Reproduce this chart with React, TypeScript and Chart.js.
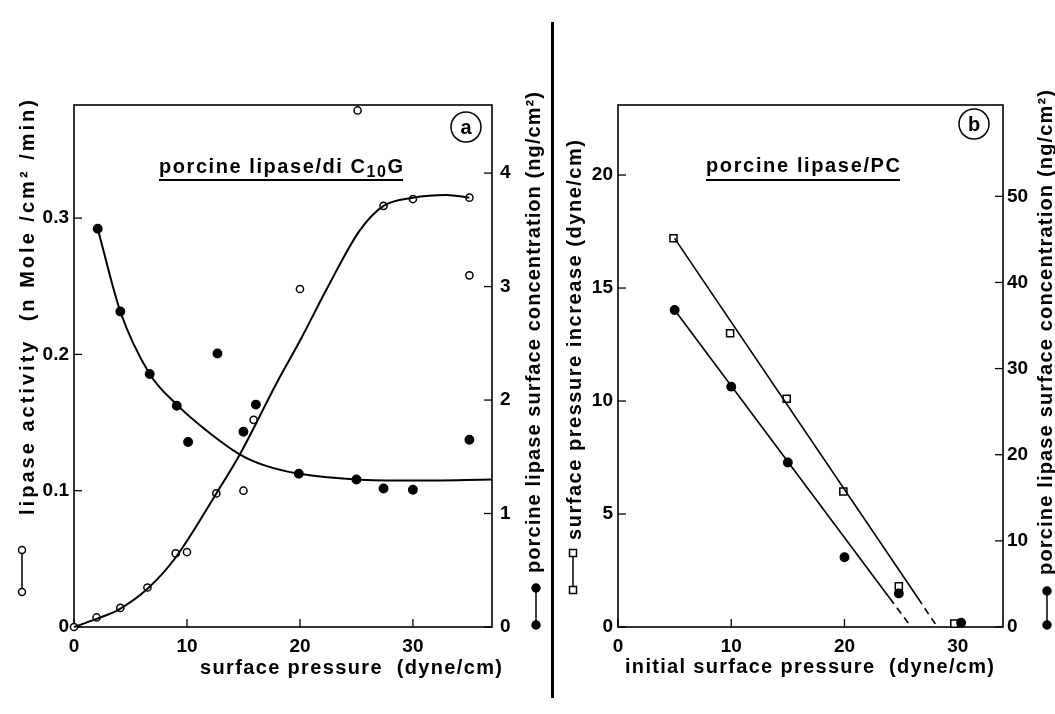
import React, { useEffect, useRef } from "react";
import { Chart, registerables } from "chart.js";

Chart.register(...registerables);

const FONT = "'Liberation Sans', Arial, Helvetica, sans-serif";
const TITLE_SIZE = 20;

// ---------- Panel (a): porcine lipase / di C10G ----------
const A_X_TICKS = [0, 10, 20, 30];
const A_YL_TICKS = [0, 0.1, 0.2, 0.3];
const A_YL_LABELS = ["0", "0.1", "0.2", "0.3"];
const A_YR_TICKS = [0, 1, 2, 3, 4];
const A_YR_LABELS = ["0", "1", "2", "3", "4"];

// lipase activity (open circles, left axis)
const A_OPEN_X = [0, 2, 4.1, 6.5, 9, 10, 12.6, 15, 15.9, 20, 25.1, 27.4, 30, 35, 35];
const A_OPEN_Y = [0, 0.007, 0.014, 0.029, 0.054, 0.055, 0.098, 0.1, 0.152, 0.248, 0.379, 0.309, 0.314, 0.315, 0.258];
const A_OPEN_CURVE_X = [0, 2, 4, 6.5, 9, 12.6, 14.7, 18, 20, 22.5, 25.3, 27.4, 30, 33, 35];
const A_OPEN_CURVE_Y = [0, 0.006, 0.013, 0.028, 0.051, 0.098, 0.127, 0.18, 0.21, 0.25, 0.291, 0.309, 0.315, 0.317, 0.315];

// porcine lipase surface concentration (filled circles, right axis)
const A_FILLED_X = [2.1, 4.1, 6.7, 9.1, 10.1, 12.7, 15, 16.1, 19.9, 25, 27.4, 30, 35];
const A_FILLED_Y = [3.51, 2.78, 2.23, 1.95, 1.63, 2.41, 1.72, 1.96, 1.35, 1.3, 1.22, 1.21, 1.65];
const A_FILLED_CURVE_X = [2.1, 4.1, 6.7, 9.1, 11.5, 14.7, 17, 20, 25, 30, 37];
const A_FILLED_CURVE_Y = [3.51, 2.78, 2.23, 1.96, 1.75, 1.52, 1.42, 1.35, 1.3, 1.29, 1.3];

// ---------- Panel (b): porcine lipase / PC ----------
const B_X_TICKS = [0, 10, 20, 30];
const B_YL_TICKS = [0, 5, 10, 15, 20];
const B_YR_TICKS = [0, 10, 20, 30, 40, 50];

// surface pressure increase (open squares, left axis)
const B_SQ_X = [4.9, 9.9, 14.9, 19.9, 24.8, 29.7];
const B_SQ_Y = [17.2, 13.0, 10.1, 6.0, 1.8, 0.15];
const B_SQ_FIT_X = [5, 26.5, 28.2];
const B_SQ_FIT_Y = [17.2, 1.27, 0];

// porcine lipase surface concentration (filled circles, right axis)
const B_DOT_X = [5, 10, 15, 20, 24.8, 30.3];
const B_DOT_Y = [36.8, 27.9, 19.1, 8.1, 3.9, 0.5];
const B_DOT_FIT_X = [5, 24, 25.9];
const B_DOT_FIT_Y = [36.8, 3.34, 0];

const zip = (xs: number[], ys: number[]) => xs.map((x, i) => ({ x, y: ys[i] }));

type Seg = { text: string; size: number; dy?: number };

function drawSpaced(ctx: CanvasRenderingContext2D, segs: Seg[], x0: number, y: number, width: number) {
  const chars: { ch: string; size: number; dy: number }[] = [];
  for (const s of segs) for (const ch of Array.from(s.text)) chars.push({ ch, size: s.size, dy: s.dy || 0 });
  const widths = chars.map((c) => {
    ctx.font = `bold ${c.size}px ${FONT}`;
    return ctx.measureText(c.ch).width;
  });
  const natural = widths.reduce((a, b) => a + b, 0);
  const extra = chars.length > 1 ? (width - natural) / (chars.length - 1) : 0;
  let x = x0;
  ctx.textAlign = "left";
  chars.forEach((c, i) => {
    ctx.font = `bold ${c.size}px ${FONT}`;
    ctx.fillText(c.ch, x, y + c.dy);
    x += widths[i] + extra;
  });
}

type VTitle = { text: string; cx: number; yb: number; yt: number };
type HTitle = { text: string; x0: number; x1: number; cy: number };
type Glyph = { kind: "open" | "filled" | "square"; x: number; y1: number; y2: number };
type Sub = { segs: Seg[]; x0: number; x1: number; base: number; ul: number };
type Badge = { text: string; cx: number; cy: number; r: number };

type Decor = {
  offsetX: number;
  vtitles: VTitle[];
  htitle: HTitle;
  glyphs: Glyph[];
  sub: Sub;
  badge: Badge;
};

function drawMarker(ctx: CanvasRenderingContext2D, kind: string, x: number, y: number) {
  ctx.lineWidth = 1.5;
  ctx.strokeStyle = "#000";
  if (kind === "square") {
    ctx.fillStyle = "#fff";
    ctx.fillRect(x - 3.5, y - 3.5, 7, 7);
    ctx.strokeRect(x - 3.5, y - 3.5, 7, 7);
  } else {
    ctx.beginPath();
    ctx.arc(x, y, kind === "filled" ? 4 : 3.5, 0, Math.PI * 2);
    ctx.fillStyle = kind === "filled" ? "#000" : "#fff";
    ctx.fill();
    ctx.stroke();
  }
}

const decorPlugin = {
  id: "decor",
  beforeDatasetsDraw(chart: any) {
    const ctx: CanvasRenderingContext2D = chart.ctx;
    const { left, right, top, bottom } = chart.chartArea;
    ctx.save();
    ctx.strokeStyle = "#000";
    ctx.lineWidth = 1.6;
    ctx.strokeRect(left, top, right - left, bottom - top);
    ctx.lineWidth = 1.3;
    Object.values(chart.scales).forEach((s: any) => {
      s.ticks.forEach((t: any) => {
        const p = s.getPixelForValue(t.value);
        ctx.beginPath();
        if (s.axis === "x") {
          ctx.moveTo(p, bottom);
          ctx.lineTo(p, bottom - 8);
        } else if (s.position === "left") {
          ctx.moveTo(left, p);
          ctx.lineTo(left + 8, p);
        } else {
          ctx.moveTo(right, p);
          ctx.lineTo(right - 8, p);
        }
        ctx.stroke();
      });
    });
    ctx.restore();
  },
  afterDraw(chart: any, _args: any, opts: any) {
    const d: Decor = opts.decor;
    if (!d) return;
    const ctx: CanvasRenderingContext2D = chart.ctx;
    const ox = d.offsetX;
    ctx.save();
    ctx.fillStyle = "#000";
    ctx.textBaseline = "middle";
    d.vtitles.forEach((t) => {
      ctx.save();
      ctx.translate(t.cx - ox, t.yb);
      ctx.rotate(-Math.PI / 2);
      drawSpaced(ctx, [{ text: t.text, size: TITLE_SIZE }], 0, 0, t.yb - t.yt);
      ctx.restore();
    });
    const h = d.htitle;
    drawSpaced(ctx, [{ text: h.text, size: TITLE_SIZE }], h.x0 - ox, h.cy, h.x1 - h.x0);
    d.glyphs.forEach((g) => {
      ctx.strokeStyle = "#000";
      ctx.lineWidth = 1.5;
      ctx.beginPath();
      ctx.moveTo(g.x - ox, g.y1);
      ctx.lineTo(g.x - ox, g.y2);
      ctx.stroke();
      drawMarker(ctx, g.kind, g.x - ox, g.y1);
      drawMarker(ctx, g.kind, g.x - ox, g.y2);
    });
    ctx.fillStyle = "#000";
    ctx.textBaseline = "alphabetic";
    const sb = d.sub;
    drawSpaced(ctx, sb.segs, sb.x0 - ox, sb.base, sb.x1 - sb.x0);
    ctx.lineWidth = 2;
    ctx.beginPath();
    ctx.moveTo(sb.x0 - ox, sb.ul);
    ctx.lineTo(sb.x1 - ox, sb.ul);
    ctx.stroke();
    const bd = d.badge;
    ctx.lineWidth = 1.5;
    ctx.beginPath();
    ctx.arc(bd.cx - ox, bd.cy, bd.r, 0, Math.PI * 2);
    ctx.stroke();
    ctx.textAlign = "center";
    ctx.textBaseline = "middle";
    ctx.font = `bold 20px ${FONT}`;
    ctx.fillText(bd.text, bd.cx - ox, bd.cy + 1);
    ctx.restore();
  },
};

const tickFont = { family: FONT, size: 19, weight: "bold" as const };

function axis(opts: {
  position: string;
  min: number;
  max: number;
  ticks: number[];
  labels?: string[];
  size: number;
  padding: number;
}) {
  const isX = opts.position === "bottom";
  return {
    type: "linear",
    position: opts.position,
    min: opts.min,
    max: opts.max,
    afterFit: (s: any) => {
      if (isX) s.height = opts.size;
      else s.width = opts.size;
    },
    afterBuildTicks: (s: any) => {
      s.ticks = opts.ticks.map((v) => ({ value: v }));
    },
    grid: { display: false, drawTicks: false },
    border: { display: false },
    ticks: {
      font: tickFont,
      color: "#000",
      padding: opts.padding,
      maxRotation: 0,
      autoSkip: false,
      callback: (v: any, i: number) => (opts.labels ? opts.labels[i] : String(v)),
    },
  };
}

function lineDS(xs: number[], ys: number[], yAxisID: string, extra: any = {}) {
  return {
    data: zip(xs, ys),
    yAxisID,
    showLine: true,
    pointRadius: 0,
    borderColor: "#000",
    borderWidth: 2,
    fill: false,
    clip: 10,
    ...extra,
  };
}

function pointDS(xs: number[], ys: number[], yAxisID: string, style: string, filled: boolean) {
  return {
    data: zip(xs, ys),
    yAxisID,
    showLine: false,
    pointStyle: style,
    pointRadius: style === "rect" ? 5 : filled ? 4.2 : 3.6,
    pointBackgroundColor: filled ? "#000" : "#fff",
    pointBorderColor: "#000",
    pointBorderWidth: 1.5,
    clip: 10,
  };
}

const decorA: Decor = {
  offsetX: 0,
  vtitles: [
    { text: "lipase activity  (n Mole /cm² /min)", cx: 28, yb: 515, yt: 100 },
    { text: "porcine lipase surface concentration (ng/cm²)", cx: 534, yb: 573, yt: 92 },
  ],
  htitle: { text: "surface pressure  (dyne/cm)", x0: 200, x1: 502, cy: 668 },
  glyphs: [
    { kind: "open", x: 22, y1: 550, y2: 592 },
    { kind: "filled", x: 536, y1: 588, y2: 625 },
  ],
  sub: {
    segs: [
      { text: "porcine lipase/di C", size: 20 },
      { text: "10", size: 16, dy: 4 },
      { text: "G", size: 20 },
    ],
    x0: 159,
    x1: 403,
    base: 173,
    ul: 180,
  },
  badge: { text: "a", cx: 466, cy: 127, r: 15 },
};

const decorB: Decor = {
  offsetX: 556,
  vtitles: [
    { text: "surface pressure increase (dyne/cm)", cx: 575, yb: 540, yt: 140 },
    { text: "porcine lipase surface concentration (ng/cm²)", cx: 1046, yb: 575, yt: 90 },
  ],
  htitle: { text: "initial surface pressure  (dyne/cm)", x0: 625, x1: 994, cy: 667 },
  glyphs: [
    { kind: "square", x: 573, y1: 553, y2: 590 },
    { kind: "filled", x: 1047, y1: 591, y2: 625 },
  ],
  sub: {
    segs: [{ text: "porcine lipase/PC", size: 20 }],
    x0: 706,
    x1: 900,
    base: 172,
    ul: 180,
  },
  badge: { text: "b", cx: 974, cy: 124, r: 15 },
};

function baseOptions(decor: Decor, scales: any) {
  return {
    animation: false,
    responsive: false,
    maintainAspectRatio: false,
    layout: { padding: { top: 105, left: 0, right: 0, bottom: 0 } },
    plugins: { legend: { display: false }, tooltip: { enabled: false }, decor: { decor } },
    scales,
  };
}

export default function App() {
  const refA = useRef<HTMLCanvasElement>(null);
  const refB = useRef<HTMLCanvasElement>(null);

  useEffect(() => {
    const chartA = new Chart(refA.current as HTMLCanvasElement, {
      type: "scatter",
      data: {
        datasets: [
          lineDS(A_OPEN_CURVE_X, A_OPEN_CURVE_Y, "yL", { cubicInterpolationMode: "monotone" }),
          lineDS(A_FILLED_CURVE_X, A_FILLED_CURVE_Y, "yR", { cubicInterpolationMode: "monotone" }),
          pointDS(A_OPEN_X, A_OPEN_Y, "yL", "circle", false),
          pointDS(A_FILLED_X, A_FILLED_Y, "yR", "circle", true),
        ] as any,
      },
      options: baseOptions(decorA, {
        x: axis({ position: "bottom", min: 0, max: 37, ticks: A_X_TICKS, size: 87, padding: 8 }),
        yL: axis({ position: "left", min: 0, max: 0.383, ticks: A_YL_TICKS, labels: A_YL_LABELS, size: 74, padding: 5 }),
        yR: axis({ position: "right", min: 0, max: 4.6, ticks: A_YR_TICKS, labels: A_YR_LABELS, size: 56, padding: 8 }),
      }) as any,
      plugins: [decorPlugin as any],
    });

    const dashLast = { segment: { borderDash: (c: any) => (c.p0DataIndex === 1 ? [7, 5] : undefined) } };
    const chartB = new Chart(refB.current as HTMLCanvasElement, {
      type: "scatter",
      data: {
        datasets: [
          lineDS(B_SQ_FIT_X, B_SQ_FIT_Y, "yL", { borderWidth: 1.6, ...dashLast }),
          lineDS(B_DOT_FIT_X, B_DOT_FIT_Y, "yR", { borderWidth: 1.6, ...dashLast }),
          pointDS(B_DOT_X, B_DOT_Y, "yR", "circle", true),
          pointDS(B_SQ_X, B_SQ_Y, "yL", "rect", false),
        ] as any,
      },
      options: baseOptions(decorB, {
        x: axis({ position: "bottom", min: 0, max: 34, ticks: B_X_TICKS, size: 87, padding: 8 }),
        yL: axis({ position: "left", min: 0, max: 23.1, ticks: B_YL_TICKS, size: 62, padding: 5 }),
        yR: axis({ position: "right", min: 0, max: 60.6, ticks: B_YR_TICKS, size: 52, padding: 4 }),
      }) as any,
      plugins: [decorPlugin as any],
    });

    return () => {
      chartA.destroy();
      chartB.destroy();
    };
  }, []);

  return (
    <div style={{ position: "fixed", left: 0, top: 0, width: 1055, height: 714, background: "#fff", overflow: "hidden" }}>
      <canvas ref={refA} width={548} height={714} style={{ position: "absolute", left: 0, top: 0, width: 548, height: 714 }} />
      <div style={{ position: "absolute", left: 551, top: 22, width: 3, height: 676, background: "#000" }} />
      <canvas ref={refB} width={499} height={714} style={{ position: "absolute", left: 556, top: 0, width: 499, height: 714 }} />
    </div>
  );
}
